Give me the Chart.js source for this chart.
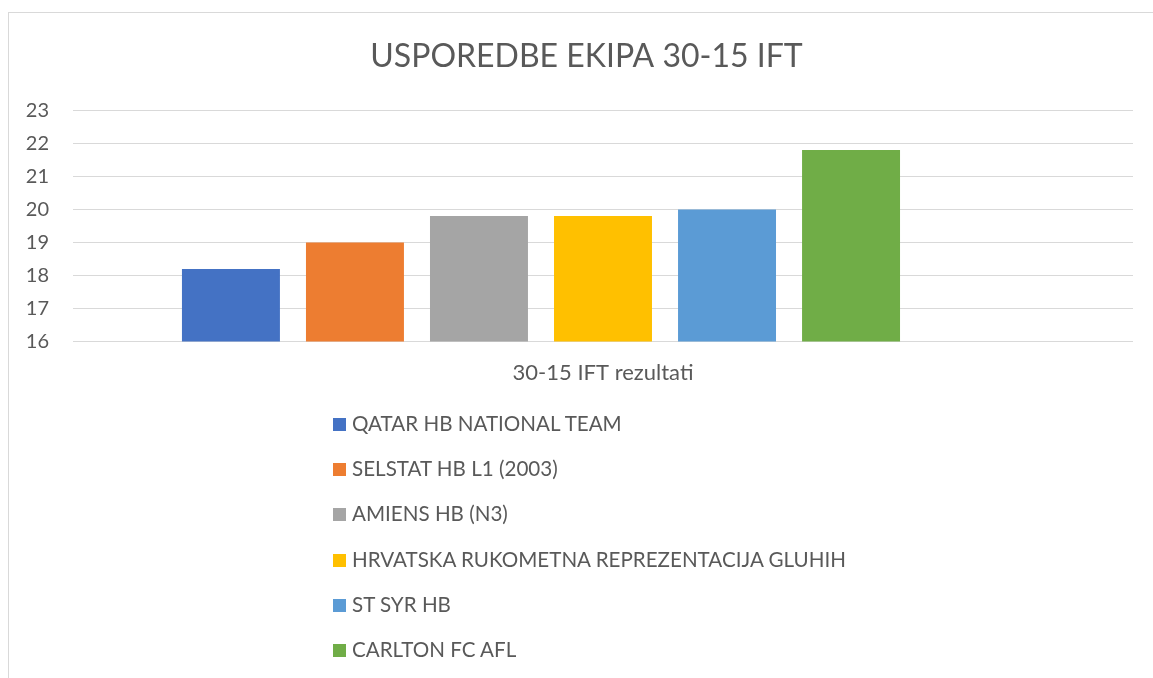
<!DOCTYPE html>
<html>
<head>
<meta charset="utf-8">
<script src="https://cdn.jsdelivr.net/npm/chart.js@4/dist/chart.umd.min.js"></script>
<style>
  html, body { margin: 0; padding: 0; background: #fff; }
  #wrap { position: relative; width: 1153px; height: 678px; overflow: hidden; }
  #frame { position: absolute; left: 8px; top: 12px; width: 1200px; height: 700px;
           border-left: 1px solid #d9d9d9; border-top: 1px solid #d9d9d9; }
  #legend { position: absolute; left: 333px; top: 411px; font-family: Lato, sans-serif;
            font-size: 20.6px; color: #595959; }
  #legend .item { height: 45.2px; display: flex; align-items: flex-start; }
  #legend .box { width: 13px; height: 13px; margin: 7px 6px 0 0; }
</style>
</head>
<body>
<div id="wrap">
  <div id="frame"></div>
  <canvas id="chart" width="1153" height="678"></canvas>
  <div id="legend"></div>
</div>
<script>
const categories = ['30-15 IFT rezultati'];
const teams = [
    'QATAR HB NATIONAL TEAM',
    'SELSTAT HB L1 (2003)',
    'AMIENS HB (N3)',
    'HRVATSKA RUKOMETNA REPREZENTACIJA GLUHIH',
    'ST SYR HB',
    'CARLTON FC AFL'
];
const scores = [18.2, 19.0, 19.8, 19.8, 20.0, 21.8];
const colors = ['#4472C4', '#ED7D31', '#A5A5A5', '#FFC000', '#5B9BD5', '#70AD47'];
const yTicks = [16, 17, 18, 19, 20, 21, 22, 23];

const textColor = '#595959';

// one dataset per team, plus an empty series like in the original sheet
const datasets = teams.map((t, i) => ({
    label: t,
    data: [scores[i]],
    backgroundColor: colors[i],
    barPercentage: 0.79,
    categoryPercentage: 0.819
}));
datasets.push({ label: '', data: [null], backgroundColor: 'rgba(0,0,0,0)', barPercentage: 0.79, categoryPercentage: 0.819 });

// the original chart runs past the right edge of the picture, so its title sits a bit right of centre
const titleShift = {
    id: 'titleShift',
    afterLayout(chart) {
        if (chart.titleBlock) chart.titleBlock.left += 40;
    }
};

const ctx = document.getElementById('chart').getContext('2d');
const chart = new Chart(ctx, {
    type: 'bar',
    data: { labels: categories, datasets: datasets },
    plugins: [titleShift],
    options: {
        responsive: false,
        animation: false,
        layout: { padding: { left: 0, right: 20, top: 0, bottom: 274 } },
        scales: {
            x: {
                grid: { display: false, drawTicks: false },
                border: { display: false },
                ticks: { color: textColor, font: { family: 'Lato', size: 22 }, padding: 18 }
            },
            y: {
                min: 16,
                max: 23,
                afterBuildTicks: (scale) => { scale.ticks = yTicks.map(v => ({ value: v })); },
                afterFit: (scale) => { scale.width = 73; },
                grid: { color: '#d9d9d9', lineWidth: 1, drawTicks: false },
                border: { display: false },
                ticks: { color: textColor, font: { family: 'Lato', size: 20 }, padding: 24 }
            }
        },
        plugins: {
            legend: { display: false },
            tooltip: { enabled: false },
            title: {
                display: true,
                text: 'USPOREDBE EKIPA 30-15 IFT',
                color: textColor,
                font: { family: 'Lato', size: 32, weight: 'normal' },
                padding: { top: 37, bottom: 35 }
            }
        }
    }
});

// vertical legend below the plot
const legend = document.getElementById('legend');
teams.forEach((t, i) => {
    const item = document.createElement('div');
    item.className = 'item';
    item.innerHTML = '<div class="box" style="background:' + colors[i] + '"></div><span>' + t + '</span>';
    legend.appendChild(item);
});
</script>
</body>
</html>
